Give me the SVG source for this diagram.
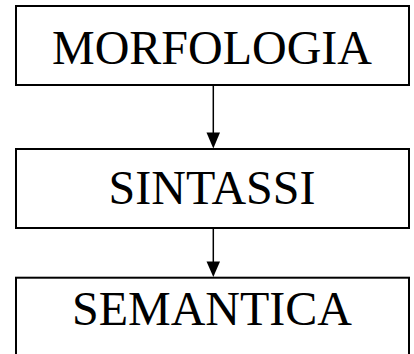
<svg xmlns="http://www.w3.org/2000/svg" width="414" height="354" viewBox="0 0 414 354">
  <style>
    .box { fill: #ffffff; stroke: #000000; stroke-width: 2; }
    .label { font-family: "Liberation Serif", "Times New Roman", serif; font-size: 48px; fill: #000000; text-anchor: middle; }
    .link { stroke: #000000; stroke-width: 1.5; fill: none; }
    .head { fill: #000000; stroke: none; }
  </style>
  <rect width="414" height="354" fill="#ffffff"/>
  <g id="connectors">
    <line class="link" x1="213.3" y1="85" x2="213.3" y2="134"/>
    <polygon class="head" points="206.5,132.5 220,132.5 213.3,148.5"/>
    <line class="link" x1="213.3" y1="228" x2="213.3" y2="263"/>
    <polygon class="head" points="206.5,261.5 220,261.5 213.3,277"/>
  </g>
  <g id="morfologia">
    <rect class="box" x="16" y="6" width="393" height="79"/>
    <text class="label" x="212" y="64.3">MORFOLOGIA</text>
  </g>
  <g id="sintassi">
    <rect class="box" x="16" y="149" width="393" height="79"/>
    <text class="label" x="212" y="204.3">SINTASSI</text>
  </g>
  <g id="semantica">
    <rect class="box" x="16" y="277.7" width="393" height="82"/>
    <text class="label" x="212" y="325">SEMANTICA</text>
  </g>
</svg>
